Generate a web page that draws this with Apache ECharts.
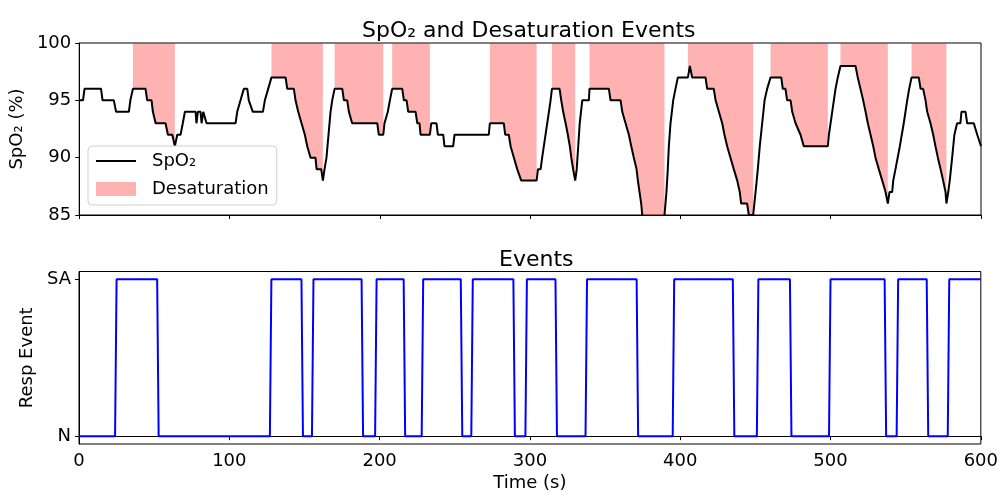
<!DOCTYPE html>
<html>
<head>
<meta charset="utf-8">
<script src="https://cdn.jsdelivr.net/npm/echarts@6/dist/echarts.min.js"></script>
<style>
html, body { margin: 0; padding: 0; background: #fff; }
#chart { width: 1001px; height: 493px; }
</style>
</head>
<body>
<div id="chart"></div>
<script>
// SpO2 trace (time in s, value in %)
var spo2Time = [0, 2.5, 3.5, 14.5, 15.5, 23, 24.5, 33, 34, 35.7, 44.1, 45.2, 48.1, 49, 50.8, 57.4, 59, 61.9, 63.6, 65.2,
  67.4, 68.9, 70.3, 77.4, 78, 78.9, 80.7, 81.4, 82.5, 83.6, 84.7, 104, 105.1, 107.3, 109.5, 111.8, 112.8, 115.5, 122.2, 123.5,
  125.7, 127.9, 137.3, 138.4, 142.8, 143.9, 145.7, 147.9, 150.1, 151.7, 153.9, 157.2, 157.9, 161, 162.1, 163.2, 164.5, 167.2, 168.3, 169.9,
  175, 176.1, 178.3, 179.4, 180.5, 181.6, 198.3, 199.3, 202.3, 203.1, 205.3, 206.7, 208.2, 214.9, 216, 217.8, 218.9, 223.8, 224.9, 226.4,
  227.1, 233.3, 234.2, 237.7, 238.6, 242.2, 243, 248.8, 249.7, 272.5, 273.2, 282.5, 283.4, 285.8, 287, 289.2, 291.4, 294.1, 304.3, 305.2,
  307, 308, 312.5, 313.6, 314.5, 319.6, 320.7, 322, 323.6, 325.1, 326.4, 327.4, 328.6, 330, 331, 332, 333, 334.7, 339.1, 339.5,
  352.4, 353.5, 360.2, 361.3, 363.5, 365.7, 367.3, 369, 370.8, 371.7, 372.8, 373.9, 374.6, 376, 388, 389.4, 390.7, 391.6, 392.3, 393.4,
  395.2, 396.7, 398.3, 405, 406.3, 407.8, 416.7, 417.8, 422.2, 423.4, 425.6, 427.8, 429.3, 431.1, 433.3, 435.5, 437.8, 439.5, 440.4, 444.4,
  445.5, 448.4, 450, 451.5, 452.8, 454.4, 456, 457.7, 460, 467.1, 468.1, 469.9, 471, 473.3, 474.4, 476.6, 479.9, 482.1, 498.1, 498.8,
  501, 503.2, 504.7, 506.5, 516.5, 518, 519.8, 521.6, 523.2, 524.7, 526.5, 528.3, 529.8, 532, 534.3, 536.5, 538, 539.1, 540.9, 541.6,
  543.1, 546, 548.6, 550.9, 552.2, 553.8, 558.6, 559.8, 561.5, 563.1, 564.2, 566.4, 568.2, 569.7, 571.3, 573.1, 574.8, 576.4, 577, 578.2,
  579.2, 580.8, 582.3, 584.1, 586.3, 587, 589.7, 590.8, 595.2, 597.5, 600];
var spo2Value = [95, 95, 96, 96, 95, 95, 94, 94, 95, 96, 96, 95, 95, 94, 93, 93, 92, 92, 91, 92,
  92, 93, 94, 94, 93, 94, 94, 93, 94, 94, 93, 93, 94, 95, 96, 96, 95, 94, 94, 95,
  96, 97, 97, 96, 96, 95, 94, 93, 92, 91, 90, 90, 89, 89, 88, 89, 90, 94, 95, 96,
  96, 95, 95, 94, 94, 93, 93, 92, 92, 93, 94, 95, 96, 96, 95, 95, 94, 94, 93, 93,
  92, 92, 93, 93, 92, 92, 91, 91, 92, 92, 93, 93, 92, 92, 91, 90, 89, 88, 88, 89,
  89, 90, 94, 95, 96, 96, 95, 94, 93, 92, 91, 90, 89, 88, 89, 91, 93, 95, 95, 96,
  96, 95, 95, 94, 93, 92, 91, 90, 89, 88, 87, 86, 85, 84, 84, 85, 87, 89, 91, 93,
  95, 96, 97, 97, 98, 97, 97, 96, 96, 95, 94, 93, 92, 91, 90, 89, 88, 87, 86, 86,
  85, 85, 87, 89, 91, 93, 95, 96, 97, 97, 96, 96, 95, 95, 94, 93, 92, 91, 91, 92,
  94, 96, 97, 98, 98, 97, 96, 95, 94, 93, 92, 91, 90, 89, 88, 87, 86, 87, 87, 88,
  89, 91, 93, 95, 96, 97, 97, 96, 96, 95, 94, 93, 92, 91, 90, 89, 88, 87, 86, 87,
  88, 90, 92, 93, 93, 94, 94, 93, 93, 92, 91];

// desaturation windows (s)
var desatStart = [35.7, 127.9, 169.9, 208.2, 273.2, 314.5, 339.5, 405, 460, 506.5, 553.8];
var desatEnd = [63.6, 162.1, 202.3, 233.3, 304.3, 330, 389.4, 448.4, 498.1, 538, 577];

// respiratory events: 0 = N, 1 = SA
var eventTime = [0, 24, 25, 52, 53, 127, 128, 148, 149, 155, 156, 188, 189, 197, 198, 216, 217, 228, 229, 254,
  255, 261, 262, 289, 290, 297, 298, 317, 318, 337, 338, 371, 372, 395, 396, 435, 436, 451, 452, 473,
  474, 499, 500, 536, 537, 544, 545, 564, 565, 578, 579, 600];
var eventState = [0, 0, 1, 1, 0, 0, 1, 1, 0, 0, 1, 1, 0, 0, 1, 1, 0, 0, 1, 1,
  0, 0, 1, 1, 0, 0, 1, 1, 0, 0, 1, 1, 0, 0, 1, 1, 0, 0, 1, 1,
  0, 0, 1, 1, 0, 0, 1, 1, 0, 0, 1, 1];
var eventLabels = ['N', 'SA'];

var spo2Data = spo2Time.map(function (t, i) { return [t, spo2Value[i]]; });
var eventData = eventTime.map(function (t, i) { return [t, eventState[i]]; });

// pink area: the trace inside each window, broken between windows
var desatData = [];
desatStart.forEach(function (s, k) {
  var e = desatEnd[k];
  spo2Time.forEach(function (t, i) {
    if (t >= s && t <= e) desatData.push([t, spo2Value[i]]);
  });
  desatData.push([e, '-']);
});

var font = 'DejaVu Sans';
var black = '#000';
var pink = 'rgba(255,0,0,0.3)';

var myChart = echarts.init(document.getElementById('chart'), null, { renderer: 'canvas' });

var option = {
  animation: false,
  textStyle: { fontFamily: font, color: black },
  title: [{
    text: 'SpO₂ and Desaturation Events',
    left: 357, top: 15,
    textStyle: { fontFamily: font, fontSize: 22, fontWeight: 'normal', color: black }
  }, {
    text: 'Events',
    left: 494, top: 244,
    textStyle: { fontFamily: font, fontSize: 22, fontWeight: 'normal', color: black }
  }],
  legend: {
    orient: 'vertical',
    left: 88, top: 146,
    padding: [6, 8, 7, 7],
    itemWidth: 40, itemHeight: 14, itemGap: 10,
    borderColor: '#d0d0d0', borderWidth: 1, borderRadius: 4,
    backgroundColor: 'rgba(255,255,255,0.8)',
    textStyle: { fontFamily: font, fontSize: 18, color: black, padding: [0, 0, 0, 11] },
    data: [
      { name: 'SpO₂', itemStyle: { opacity: 0 } },
      { name: 'Desaturation', icon: 'rect', itemStyle: { color: pink } }
    ]
  },
  grid: [
    { left: 79, top: 43, width: 902, height: 172, show: true, borderColor: black, borderWidth: 1, backgroundColor: 'transparent' },
    { left: 79, top: 271.5, width: 902, height: 173, show: true, borderColor: black, borderWidth: 1, backgroundColor: 'transparent' }
  ],
  xAxis: [{
    type: 'value', gridIndex: 0, min: 0, max: 600, interval: 100,
    axisLine: { show: true, lineStyle: { color: black, width: 1 } },
    axisTick: { show: true, inside: false, length: 4, lineStyle: { color: black } },
    axisLabel: { show: false },
    splitLine: { show: false }
  }, {
    type: 'value', gridIndex: 1, min: 0, max: 600, interval: 100,
    name: 'Time (s)', nameLocation: 'middle', nameGap: 30,
    nameTextStyle: { fontFamily: font, fontSize: 18, color: black },
    axisLine: { show: true, lineStyle: { color: black, width: 1 } },
    axisTick: { show: true, inside: false, length: 4, lineStyle: { color: black } },
    axisLabel: { fontFamily: font, fontSize: 18, color: black, margin: 8 },
    splitLine: { show: false }
  }],
  yAxis: [{
    type: 'value', gridIndex: 0, min: 85, max: 100, interval: 5,
    name: 'SpO₂ (%)', nameLocation: 'middle', nameGap: 44, nameRotate: 90,
    nameTextStyle: { fontFamily: font, fontSize: 18, color: black },
    axisLine: { show: true, lineStyle: { color: black, width: 1 } },
    axisTick: { show: true, inside: false, length: 4, lineStyle: { color: black } },
    axisLabel: { fontFamily: font, fontSize: 18, color: black, margin: 8 },
    splitLine: { show: false }
  }, {
    type: 'value', gridIndex: 1, min: -0.05, max: 1.05,
    name: 'Resp Event', nameLocation: 'middle', nameGap: 37, nameRotate: 90,
    nameTextStyle: { fontFamily: font, fontSize: 18, color: black },
    axisLine: { show: true, lineStyle: { color: black, width: 1 } },
    axisTick: { show: true, inside: false, length: 4, lineStyle: { color: black }, customValues: [0, 1] },
    axisLabel: {
      fontFamily: font, fontSize: 18, color: black, margin: 8,
      customValues: [0, 1],
      formatter: function (v) { return eventLabels[Math.round(v)]; }
    },
    splitLine: { show: false }
  }],
  series: [{
    name: 'Desaturation',
    type: 'line',
    xAxisIndex: 0, yAxisIndex: 0,
    data: desatData,
    symbol: 'none',
    color: pink,
    lineStyle: { width: 0, opacity: 0 },
    areaStyle: { origin: 'end', color: pink, opacity: 1 },
    z: 1
  }, {
    name: 'SpO₂',
    type: 'line',
    xAxisIndex: 0, yAxisIndex: 0,
    data: spo2Data,
    symbol: 'none',
    color: black,
    lineStyle: { color: black, width: 2 },
    z: 2
  }, {
    name: 'Resp Event',
    type: 'line',
    xAxisIndex: 1, yAxisIndex: 1,
    data: eventData,
    symbol: 'none',
    color: '#0000ff',
    lineStyle: { color: '#0000ff', width: 2 },
    z: 2
  }]
};

myChart.setOption(option);
window.addEventListener('resize', function () {
  myChart.resize();
});
</script>
</body>
</html>
